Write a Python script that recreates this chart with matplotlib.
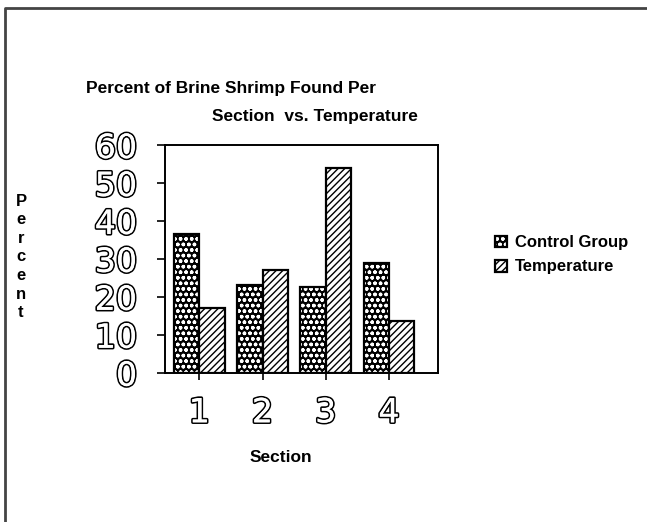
import numpy as np
import matplotlib
matplotlib.use("Agg")
import matplotlib.pyplot as plt
import matplotlib.patheffects as pe
from matplotlib.lines import Line2D
from matplotlib.legend_handler import HandlerTuple

# brine shrimp counts per tank section, in percent
sections = ["1", "2", "3", "4"]
control_group = [36.5, 23.0, 22.5, 29.0]
temperature = [17.0, 27.0, 54.0, 13.5]
y_ticks = [0, 10, 20, 30, 40, 50, 60]

W, H = 647, 522
block_font = ["Liberation Sans", "DejaVu Sans"]
outline = [pe.withStroke(linewidth=2.4, foreground="black")]


def fx(px):
    return px / W


def fy(py):
    return 1 - py / H


fig = plt.figure(figsize=(W / 100, H / 100), dpi=100)
ax = fig.add_axes([fx(165), fy(372.7), fx(437.7) - fx(165), fy(145) - fy(372.7)])

x = np.arange(len(sections))
w = 0.4
c_fill = ax.bar(x - w / 2, control_group, w, color="black", edgecolor="white", hatch="ooo", lw=0)
c_edge = ax.bar(x - w / 2, control_group, w, fill=False, edgecolor="black", lw=1.6)
t_fill = ax.bar(x + w / 2, temperature, w, color="white", edgecolor="black", hatch="/////", lw=0)
t_edge = ax.bar(x + w / 2, temperature, w, fill=False, edgecolor="black", lw=1.6)

ax.set_xlim(-0.543, 3.772)
ax.set_ylim(0, 60)
ax.set_yticks(y_ticks)
ax.set_xticks(x)
ax.set_xticklabels(sections)
for sp in ax.spines.values():
    sp.set_linewidth(1.4)
ax.tick_params(axis="y", length=6, width=1.2, pad=14)
ax.tick_params(axis="x", length=5, width=1.2, pad=12)
for lab in ax.get_yticklabels() + ax.get_xticklabels():
    lab.set_fontsize(24)
    lab.set_color("white")
    lab.set_path_effects(outline + [pe.Normal()])

fig.text(fx(86), fy(88), "Percent of Brine Shrimp Found Per", family=block_font,
         fontweight="bold", fontsize=12.5, ha="left", va="center")
fig.text(fx(212), fy(117), "Section  vs. Temperature", family=block_font,
         fontweight="bold", fontsize=12.5, ha="left", va="center")
fig.text(fx(21), fy(257), "P\ne\nr\nc\ne\nn\nt", family=block_font, fontweight="bold",
         fontsize=12, ha="center", va="center", linespacing=1.3)
fig.text(fx(281), fy(458), "Section", family=block_font, fontweight="bold",
         fontsize=12.5, ha="center", va="center")

fig.legend([(c_fill, c_edge), (t_fill, t_edge)], ["Control Group", "Temperature"],
           handler_map={tuple: HandlerTuple(ndivide=1)},
           loc="upper left", bbox_to_anchor=(fx(487), fy(227)), frameon=False,
           borderpad=0, handlelength=0.7, handleheight=0.7, handletextpad=0.5,
           labelspacing=0.55, prop={"family": block_font, "weight": "bold", "size": 12})

# page border
fig.add_artist(Line2D([fx(5), fx(5), 1], [0, fy(8), fy(8)], transform=fig.transFigure,
                      color="#444444", lw=2))

fig.savefig("out.png", dpi=100)
